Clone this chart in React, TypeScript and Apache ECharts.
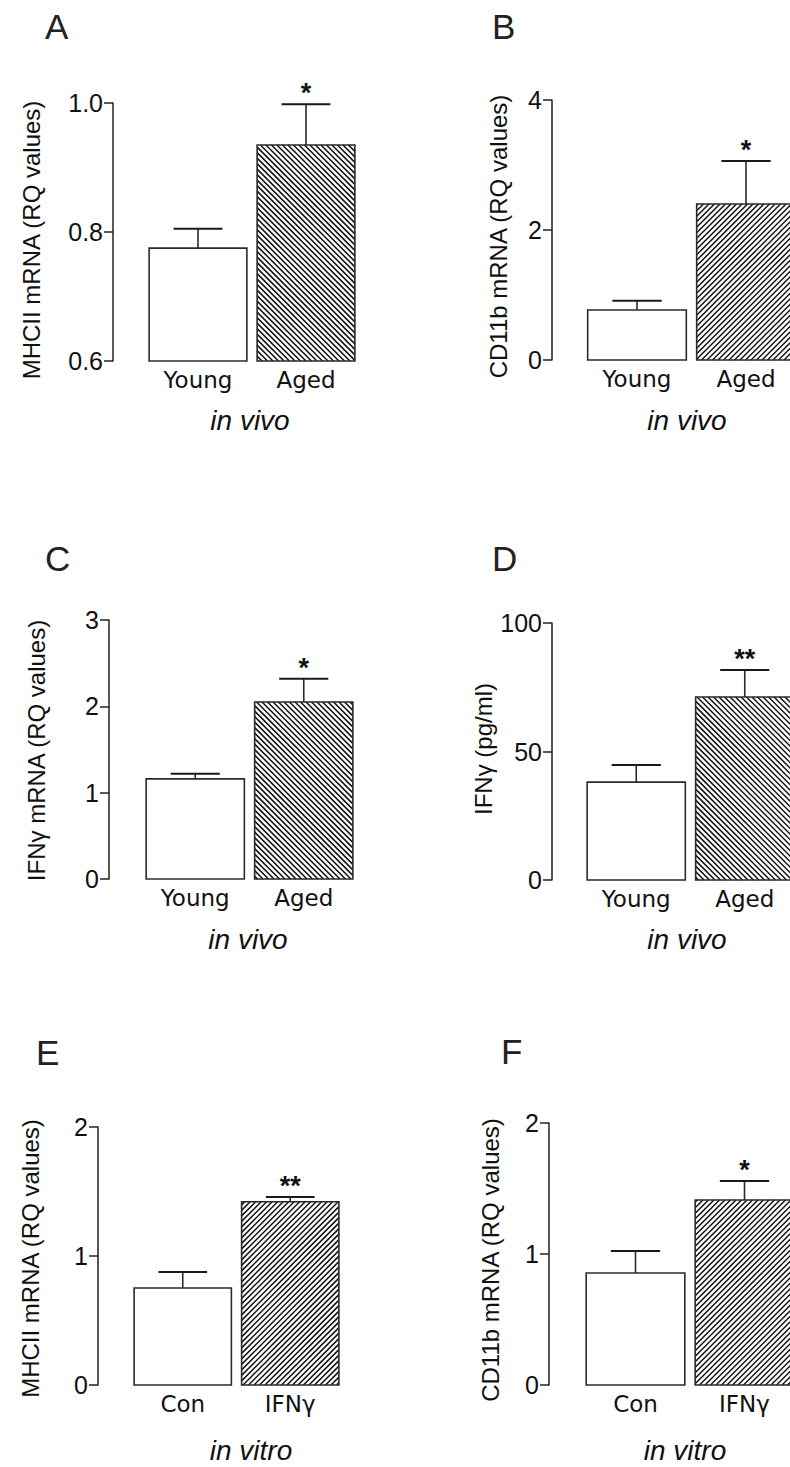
import React, { useEffect, useRef } from "react";
import * as echarts from "echarts";

// ---------- data ----------
const vivoCategories = ["Young", "Aged"];
const vitroCategories = ["Con", "IFNγ"];

const mhciiVivoMean = [0.775, 0.935];
const mhciiVivoSem = [0.03, 0.063];
const mhciiVivoSig = ["", "*"];
const mhciiVivoTicks = [0.6, 0.8, 1.0];

const cd11bVivoMean = [0.77, 2.4];
const cd11bVivoSem = [0.14, 0.66];
const cd11bVivoSig = ["", "*"];
const cd11bVivoTicks = [0, 2, 4];

const ifngMrnaMean = [1.16, 2.05];
const ifngMrnaSem = [0.06, 0.27];
const ifngMrnaSig = ["", "*"];
const ifngMrnaTicks = [0, 1, 2, 3];

const ifngProteinMean = [38.1, 71.2];
const ifngProteinSem = [6.6, 10.5];
const ifngProteinSig = ["", "**"];
const ifngProteinTicks = [0, 50, 100];

const mhciiVitroMean = [0.752, 1.42];
const mhciiVitroSem = [0.124, 0.038];
const mhciiVitroSig = ["", "**"];
const mhciiVitroTicks = [0, 1, 2];

const cd11bVitroMean = [0.855, 1.412];
const cd11bVitroSem = [0.168, 0.145];
const cd11bVitroSig = ["", "*"];
const cd11bVitroTicks = [0, 1, 2];

const FONT = "'Liberation Sans', Arial, Helvetica, sans-serif";
const WIDE_FONT = "'DejaVu Sans', 'Liberation Sans', sans-serif";

type Panel = {
  letter: string;
  title: string;
  caption: string;
  categories: string[];
  means: number[];
  sems: number[];
  sig: string[];
  ticks: number[];
  decimals: number;
  hatch: "back" | "fwd";
  gridLeft: number;
  gridWidth: number;
  top: number;
  base: number;
  axisX: number;
  nameGap: number;
  namePad: number[];
  letterX: number;
  letterY: number;
  captionX: number;
  captionY: number;
};

const panels: Panel[] = [
  {
    letter: "A", title: "MHCII mRNA (RQ values)", caption: "in vivo",
    categories: vivoCategories, means: mhciiVivoMean, sems: mhciiVivoSem, sig: mhciiVivoSig,
    ticks: mhciiVivoTicks, decimals: 1, hatch: "back",
    gridLeft: 144, gridWidth: 216, top: 103, base: 361, axisX: 113,
    nameGap: 70, namePad: [0, 16, 0, 0],
    letterX: 45, letterY: 26, captionX: 250, captionY: 420,
  },
  {
    letter: "B", title: "CD11b mRNA (RQ values)", caption: "in vivo",
    categories: vivoCategories, means: cd11bVivoMean, sems: cd11bVivoSem, sig: cd11bVivoSig,
    ticks: cd11bVivoTicks, decimals: 0, hatch: "fwd",
    gridLeft: 582.5, gridWidth: 218, top: 100, base: 360, axisX: 552,
    nameGap: 42, namePad: [0, 13, 0, 0],
    letterX: 492, letterY: 26, captionX: 687, captionY: 420,
  },
  {
    letter: "C", title: "IFNγ mRNA (RQ values)", caption: "in vivo",
    categories: vivoCategories, means: ifngMrnaMean, sems: ifngMrnaSem, sig: ifngMrnaSig,
    ticks: ifngMrnaTicks, decimals: 0, hatch: "back",
    gridLeft: 141, gridWidth: 217, top: 620, base: 879, axisX: 109,
    nameGap: 61, namePad: [0, 2, 0, 0],
    letterX: 45, letterY: 558, captionX: 248, captionY: 939,
  },
  {
    letter: "D", title: "IFNγ (pg/ml)", caption: "in vivo",
    categories: vivoCategories, means: ifngProteinMean, sems: ifngProteinSem, sig: ifngProteinSig,
    ticks: ifngProteinTicks, decimals: 0, hatch: "back",
    gridLeft: 582, gridWidth: 217, top: 623, base: 880, axisX: 552,
    nameGap: 57, namePad: [0, 0, 0, 5],
    letterX: 492, letterY: 558, captionX: 687, captionY: 939,
  },
  {
    letter: "E", title: "MHCII mRNA (RQ values)", caption: "in vitro",
    categories: vitroCategories, means: mhciiVitroMean, sems: mhciiVitroSem, sig: mhciiVitroSig,
    ticks: mhciiVitroTicks, decimals: 0, hatch: "fwd",
    gridLeft: 129, gridWidth: 215, top: 1127, base: 1385, axisX: 98,
    nameGap: 56, namePad: [0, 5, 0, 0],
    letterX: 36, letterY: 1052, captionX: 251, captionY: 1450,
  },
  {
    letter: "F", title: "CD11b mRNA (RQ values)", caption: "in vitro",
    categories: vitroCategories, means: cd11bVitroMean, sems: cd11bVitroSem, sig: cd11bVitroSig,
    ticks: cd11bVitroTicks, decimals: 0, hatch: "fwd",
    gridLeft: 581, gridWidth: 218, top: 1123, base: 1385, axisX: 549,
    nameGap: 47, namePad: [0, 12, 0, 0],
    letterX: 501, letterY: 1051, captionX: 685, captionY: 1450,
  },
];

function hatchLines(x0: number, x1: number, y0: number, y1: number, dir: "back" | "fwd") {
  const step = 5.5;
  const out: any[] = [];
  const style = { stroke: "#111", lineWidth: 1.5 };
  if (dir === "back") {
    const cMin = y0 - x1;
    const cMax = y1 - x0;
    for (let c = Math.ceil(cMin / step) * step; c <= cMax; c += step) {
      const xa = Math.max(x0, y0 - c);
      const xb = Math.min(x1, y1 - c);
      if (xb - xa < 0.3) continue;
      out.push({ type: "line", shape: { x1: xa, y1: xa + c, x2: xb, y2: xb + c }, style });
    }
  } else {
    const cMin = x0 + y0;
    const cMax = x1 + y1;
    for (let c = Math.ceil(cMin / step) * step; c <= cMax; c += step) {
      const xa = Math.max(x0, c - y1);
      const xb = Math.min(x1, c - y0);
      if (xb - xa < 0.3) continue;
      out.push({ type: "line", shape: { x1: xa, y1: c - xa, x2: xb, y2: c - xb }, style });
    }
  }
  return out;
}

function makeRender(p: Panel) {
  const yMin = p.ticks[0];
  return (params: any, api: any) => {
    const j = api.value(0);
    const m = api.value(1);
    const s = api.value(2);
    const topPt = api.coord([j, m]);
    const cx = topPt[0];
    const yTop = topPt[1];
    const yBase = api.coord([j, yMin])[1];
    const yErr = api.coord([j, m + s])[1];
    const bw = api.size([1, 0])[0] * 0.905;
    const x0 = cx - bw / 2;
    const x1 = cx + bw / 2;
    const children: any[] = [];
    children.push({
      type: "rect",
      shape: { x: x0, y: yTop, width: bw, height: yBase - yTop },
      style: { fill: "#fff", stroke: "none" },
    });
    if (j === 1) {
      children.push(...hatchLines(x0, x1, yTop, yBase, p.hatch));
    }
    children.push({
      type: "rect",
      shape: { x: x0, y: yTop, width: bw, height: yBase - yTop },
      style: { fill: "none", stroke: "#2a2a2a", lineWidth: 1.6 },
    });
    children.push({
      type: "line",
      shape: { x1: cx, y1: yTop, x2: cx, y2: yErr },
      style: { stroke: "#2a2a2a", lineWidth: 1.6 },
    });
    children.push({
      type: "line",
      shape: { x1: cx - bw / 4, y1: yErr, x2: cx + bw / 4, y2: yErr },
      style: { stroke: "#1a1a1a", lineWidth: 2 },
    });
    const sig = p.sig[params.dataIndex];
    if (sig) {
      children.push({
        type: "text",
        x: cx,
        y: yErr - 11,
        style: {
          text: sig,
          font: `bold 27px ${FONT}`,
          fill: "#111",
          align: "center",
          verticalAlign: "middle",
          textAlign: "center",
          textVerticalAlign: "middle",
        },
      });
    }
    return { type: "group", children };
  };
}

export default function App() {
  const ref = useRef<HTMLDivElement>(null);
  useEffect(() => {
    document.body.style.margin = "0";
    if (!ref.current) return;
    const chart = echarts.init(ref.current, undefined, { renderer: "svg" });
    const option: any = {
      animation: false,
      backgroundColor: "#fff",
      grid: panels.map((p) => ({
        left: p.gridLeft,
        top: p.top,
        width: p.gridWidth,
        height: p.base - p.top,
        containLabel: false,
        outerBoundsMode: "none",
      })),
      xAxis: panels.map((p, i) => ({
        type: "category",
        gridIndex: i,
        data: p.categories,
        axisLine: { show: false },
        axisTick: { show: false },
        axisLabel: {
          fontSize: 23,
          fontFamily: WIDE_FONT,
          color: "#111",
          margin: 19,
          verticalAlign: "middle",
        },
      })),
      yAxis: panels.map((p, i) => ({
        type: "value",
        gridIndex: i,
        min: p.ticks[0],
        max: p.ticks[p.ticks.length - 1],
        interval: p.ticks[1] - p.ticks[0],
        offset: p.gridLeft - p.axisX,
        axisLine: { show: true, lineStyle: { color: "#222", width: 1.5 } },
        axisTick: { show: true, length: 9, lineStyle: { color: "#222", width: 1.5 } },
        splitLine: { show: false },
        axisLabel: {
          fontSize: 25,
          fontFamily: FONT,
          color: "#111",
          margin: 10,
          padding: [10, 0, 0, 0],
          formatter: (v: number) => v.toFixed(p.decimals),
        },
        name: p.title,
        nameLocation: "middle",
        nameRotate: 90,
        nameGap: p.nameGap,
        nameTextStyle: {
          fontSize: 24,
          fontFamily: FONT,
          color: "#111",
          padding: p.namePad,
        },
      })),
      series: panels.map((p, i) => ({
        type: "custom",
        xAxisIndex: i,
        yAxisIndex: i,
        encode: { x: 0, y: 1 },
        data: p.means.map((m, j) => [j, m, p.sems[j]]),
        renderItem: makeRender(p),
      })),
      graphic: [
        ...panels.map((p) => ({
          type: "text",
          x: p.letterX,
          y: p.letterY,
          style: {
            text: p.letter,
            font: `35px ${FONT}`,
            fill: "#222",
            align: "left",
            verticalAlign: "middle",
            textAlign: "left",
            textVerticalAlign: "middle",
          },
        })),
        ...panels.map((p) => ({
          type: "text",
          x: p.captionX,
          y: p.captionY,
          style: {
            text: p.caption,
            font: `italic 28px ${FONT}`,
            fill: "#111",
            align: "center",
            verticalAlign: "middle",
            textAlign: "center",
            textVerticalAlign: "middle",
          },
        })),
      ],
    };
    chart.setOption(option);
    return () => chart.dispose();
  }, []);
  return (
    <div
      ref={ref}
      style={{ position: "absolute", left: 0, top: 0, width: 790, height: 1467 }}
    />
  );
}
